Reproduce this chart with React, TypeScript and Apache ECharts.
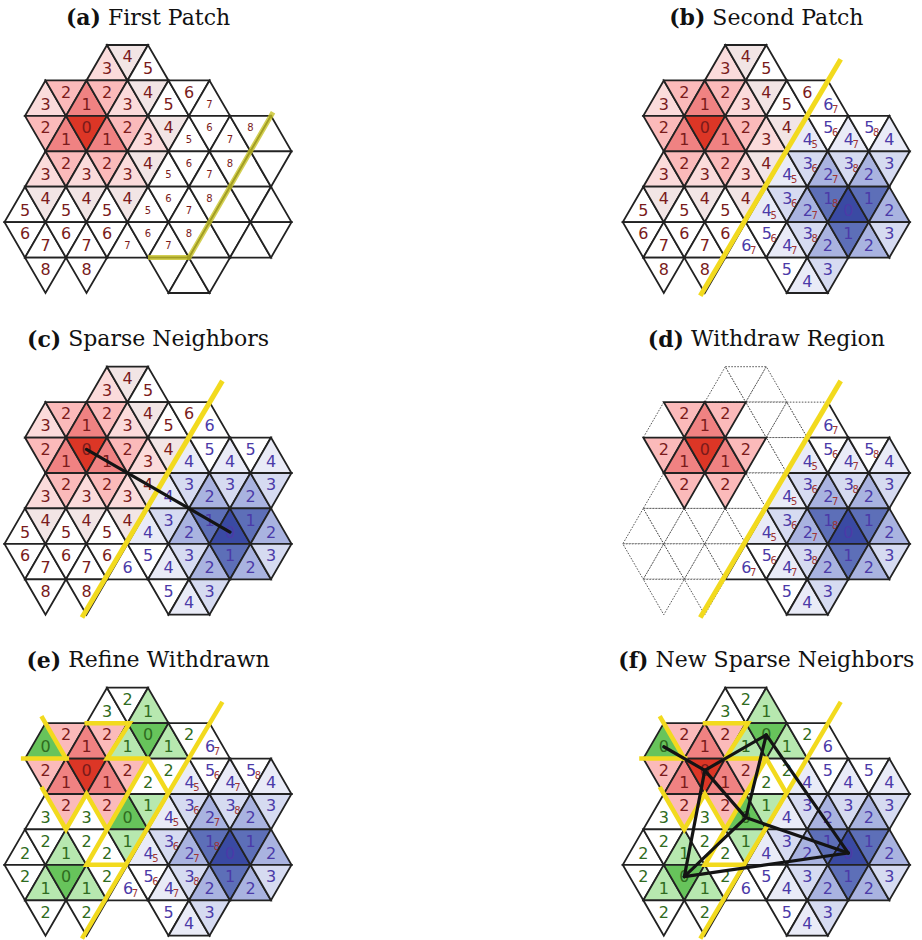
import React, { useEffect, useRef } from "react";
import * as echarts from "echarts";

// ---- lattice data (row r, first column index per row) ----
const ROW_START = [5, 2, 2, 2, 1, 1, 2];

// tokens: r/b/g = red/blue/green value, "/n" = small red subscript, "s" = small label,
// "x" = empty white cell, "d" = dotted (withdrawn) cell, "-" = no cell
const CELLS_A = [
  "r3 r4 r5",
  "r3 r2 r1 r2 r3 r4 r5 r6 r7s",
  "r2 r1 r0 r1 r2 r3 r4 r5s r6s r7s r8s x",
  "r3 r2 r3 r2 r3 r4 r5s r6s r7s r8s x x",
  "r5 r4 r5 r4 r5 r4 r5s r6s r7s r8s x x x",
  "r6 r7 r6 r7 r6 r7s r6s r7s r8s x x x x",
  "r8 - r8 - - - x x x",
];
const CELLS_B = [
  "r3 r4 r5",
  "r3 r2 r1 r2 r3 r4 r5 r6 b6/7",
  "r2 r1 r0 r1 r2 r3 r4 b4/5 b5/6 b4/7 b5/8 b4",
  "r3 r2 r3 r2 r3 r4 b4/5 b3/6 b2/7 b3/8 b2 b3",
  "r5 r4 r5 r4 r5 r4 b4/5 b3/6 b2/7 b1/8 b0 b1 b2",
  "r6 r7 r6 r7 r6 b6/7 b5/6 b4/7 b3/8 b2 b1 b2 b3",
  "r8 - r8 - - - b5 b4 b3",
];
const CELLS_C = [
  "r3 r4 r5",
  "r3 r2 r1 r2 r3 r4 r5 r6 b6",
  "r2 r1 r0 r1 r2 r3 r4 b4 b5 b4 b5 b4",
  "r3 r2 r3 r2 r3 r4 b4 b3 b2 b3 b2 b3",
  "r5 r4 r5 r4 r5 r4 b4 b3 b2 b1 b0 b1 b2",
  "r6 r7 r6 r7 r6 b6 b5 b4 b3 b2 b1 b2 b3",
  "r8 - r8 - - - b5 b4 b3",
];
const CELLS_D = [
  "d d d",
  "d r2 r1 r2 d d d d b6/7",
  "r2 r1 r0 r1 r2 d d b4/5 b5/6 b4/7 b5/8 b4",
  "d r2 d r2 d d b4/5 b3/6 b2/7 b3/8 b2 b3",
  "d d d d d d b4/5 b3/6 b2/7 b1/8 b0 b1 b2",
  "d d d d d b6/7 b5/6 b4/7 b3/8 b2 b1 b2 b3",
  "d - d - - - b5 b4 b3",
];
const CELLS_E = [
  "g3 g2 g1",
  "g0 r2 r1 r2 g1 g0 g1 g2 b6/7",
  "r2 r1 r0 r1 r2 g2 g2 b4/5 b5/6 b4/7 b5/8 b4",
  "g3 r2 g3 r2 g0 g1 b4/5 b3/6 b2/7 b3/8 b2 b3",
  "g2 g2 g1 g2 g2 g1 b4/5 b3/6 b2/7 b1/8 b0 b1 b2",
  "g2 g1 g0 g1 g2 b6/7 b5/6 b4/7 b3/8 b2 b1 b2 b3",
  "g2 - g2 - - - b5 b4 b3",
];
const CELLS_F = [
  "g3 g2 g1",
  "g0 r2 r1 r2 g1 g0 g1 g2 b6",
  "r2 r1 r0 r1 r2 g2 g2 b4 b5 b4 b5 b4",
  "g3 r2 g3 r2 g0 g1 b4 b3 b2 b3 b2 b3",
  "g2 g2 g1 g2 g2 g1 b4 b3 b2 b1 b0 b1 b2",
  "g2 g1 g0 g1 g2 b6 b5 b4 b3 b2 b1 b2 b3",
  "g2 - g2 - - - b5 b4 b3",
];
const PANEL_CELLS = [CELLS_A, CELLS_B, CELLS_C, CELLS_D, CELLS_E, CELLS_F];

const TITLE_TAGS = ["(a)", "(b)", "(c)", "(d)", "(e)", "(f)"];
const TITLE_TEXTS = [
  "First Patch",
  "Second Patch",
  "Sparse Neighbors",
  "Withdraw Region",
  "Refine Withdrawn",
  "New Sparse Neighbors",
];

// boundary polylines in lattice coordinates [column, row-line]
const DIAGONAL = [[3.78, 7.08], [10.63, 0.4]];
const BOUNDARY_A = [[7, 6], [9, 6], [13.1, 1.9]];
const REFINE_LINES = [
  DIAGONAL,
  [[1.8, 0.8], [3.05, 2.05]],
  [[0.8, 2], [3.15, 2]],
  [[3.9, 1], [6.1, 1], [5, 2], [7, 2], [8, 3]],
  [[7, 2], [4, 5], [6, 5]],
  [[1.8, 2.8], [3, 4], [4, 3], [5, 4]],
];
const PANEL_YELLOW = [[BOUNDARY_A], [DIAGONAL], [DIAGONAL], [DIAGONAL], REFINE_LINES, REFINE_LINES];

// seed (value 0) triangle centres
const SEED_NAMES = ["G1", "R", "G2", "G3", "G4", "B"];
const SEED_POS = [[2, 5 / 3], [4, 7 / 3], [7, 4 / 3], [6, 11 / 3], [3, 16 / 3], [11, 14 / 3]];
const EDGES_C = [["R", "B"]];
const EDGES_F = [
  ["G1", "R"], ["R", "G2"], ["R", "G3"], ["R", "G4"], ["G2", "G3"],
  ["G2", "B"], ["G3", "B"], ["G4", "B"], ["G4", "G3"],
];
const PANEL_EDGES = [[], [], EDGES_C, [], [], EDGES_F];

// ---- styling ----
const RED_FILL = ["#dc3626", "#f08282", "#fbbaba", "#fbdbdb", "#f2e5e5"];
const BLUE_FILL = ["#3a4aa3", "#5d6fb8", "#a9b3e0", "#d6dbf1", "#e9ebf7"];
const GREEN_FILL = ["#67c45b", "#b7e8af"];
const TEXT_COLOR: Record<string, string> = { r: "#7a1b1b", b: "#4b3aa8", g: "#2f6b20" };
const SUB_COLOR = "#a03434";

const UNIT_X = 20.5;
const UNIT_Y = 35.43;
const PANEL_LEFT = [4.5, 622.8, 4.5, 622.8, 4.5, 622.8];
const PANEL_TOP = [45, 45, 366.7, 366.7, 687.7, 687.7];

function parseCells(rows: string[]) {
  const out: any[] = [];
  rows.forEach((row, r) => {
    row.split(" ").forEach((tok, i) => {
      const c = ROW_START[r] + i;
      if (tok === "-") return;
      if (tok === "x") { out.push({ r, c, fill: "#ffffff" }); return; }
      if (tok === "d") { out.push({ r, c, dotted: true }); return; }
      const kind = tok[0];
      let rest = tok.slice(1);
      const small = rest.endsWith("s");
      if (small) rest = rest.slice(0, -1);
      const [main, sub] = rest.split("/");
      const v = Number(main);
      const scale = kind === "r" ? RED_FILL : kind === "b" ? BLUE_FILL : GREEN_FILL;
      const fill = v < scale.length ? scale[v] : "#ffffff";
      out.push({ r, c, fill, main, sub, small, color: TEXT_COLOR[kind] });
    });
  });
  out.sort((a, b) => (b.dotted ? 1 : 0) - (a.dotted ? 1 : 0));
  return out;
}

function txt(x: number, y: number, text: string, size: number, color: string) {
  return {
    type: "text",
    x,
    y,
    style: {
      text,
      fill: color,
      font: `${size}px "DejaVu Sans"`,
      fontSize: size,
      fontFamily: "DejaVu Sans",
      align: "center",
      verticalAlign: "middle",
      textAlign: "center",
      textVerticalAlign: "middle",
    },
  };
}

function makeRender(cells: any[]) {
  return (params: any, api: any) => {
    const cell = cells[params.dataIndex];
    const { r, c } = cell;
    const up = (r + c) % 2 === 1;
    const pts = up
      ? [[c, r], [c - 1, r + 1], [c + 1, r + 1]]
      : [[c - 1, r], [c + 1, r], [c, r + 1]];
    const px = pts.map((p) => api.coord(p));
    const cen = api.coord([c, up ? r + 2 / 3 : r + 1 / 3]);
    const children: any[] = [
      {
        type: "polygon",
        shape: { points: px },
        style: cell.dotted
          ? { fill: "#ffffff", stroke: "#444", lineWidth: 0.9, lineDash: [1.6, 1.4] }
          : { fill: cell.fill, stroke: "#222", lineWidth: 1.8 },
      },
    ];
    if (cell.main !== undefined) {
      if (cell.sub !== undefined) {
        children.push(txt(cen[0] + 0.5, cen[1], cell.main, 16, cell.color));
        children.push(txt(cen[0] + 7.5, cen[1] + 5, cell.sub, 10, SUB_COLOR));
      } else {
        children.push(txt(cen[0], cen[1], cell.main, cell.small ? 10 : 16, cell.color));
      }
    }
    return { type: "group", children };
  };
}

export default function App() {
  const ref = useRef<HTMLDivElement>(null);
  useEffect(() => {
    if (!ref.current) return;
    const chart = echarts.init(ref.current, null, { renderer: "svg" });
    const grid: any[] = [];
    const xAxis: any[] = [];
    const yAxis: any[] = [];
    const series: any[] = [];
    const graphic: any[] = [];
    PANEL_CELLS.forEach((rows, p) => {
      grid.push({ left: PANEL_LEFT[p], top: PANEL_TOP[p], width: 14 * UNIT_X, height: 7 * UNIT_Y, show: false });
      xAxis.push({ type: "value", gridIndex: p, min: 0, max: 14, show: false });
      yAxis.push({ type: "value", gridIndex: p, min: 0, max: 7, inverse: true, show: false });
      const cells = parseCells(rows);
      series.push({
        type: "custom",
        xAxisIndex: p,
        yAxisIndex: p,
        coordinateSystem: "cartesian2d",
        data: cells.map((cl) => [cl.c, cl.r]),
        encode: { x: 0, y: 1 },
        renderItem: makeRender(cells),
        clip: false,
        silent: true,
        z: 1,
      });
      PANEL_YELLOW[p].forEach((line) => {
        series.push({
          type: "line",
          xAxisIndex: p,
          yAxisIndex: p,
          data: line,
          symbol: "none",
          showSymbol: false,
          clip: false,
          silent: true,
          z: 3,
          lineStyle: p === 0
            ? { color: "rgba(198,194,34,0.78)", width: 5, cap: "butt", join: "miter" }
            : { color: "#f2da1e", width: p >= 4 ? 4.5 : 5, cap: "butt", join: "miter" },
        });
      });
      PANEL_EDGES[p].forEach(([a, b]) => {
        series.push({
          type: "line",
          xAxisIndex: p,
          yAxisIndex: p,
          data: [SEED_POS[SEED_NAMES.indexOf(a)], SEED_POS[SEED_NAMES.indexOf(b)]],
          symbol: "none",
          showSymbol: false,
          clip: false,
          silent: true,
          z: 4,
          lineStyle: { color: "#141414", width: 3.2, cap: "round" },
        });
      });
      graphic.push({
        type: "text",
        x: PANEL_LEFT[p] + 7 * UNIT_X,
        y: PANEL_TOP[p] - 28,
        style: {
          text: `{b|${TITLE_TAGS[p]}} ${TITLE_TEXTS[p]}`,
          font: '22px "DejaVu Serif"',
          fontSize: 22,
          fontFamily: "DejaVu Serif",
          fill: "#111",
          align: "center",
          verticalAlign: "middle",
          textAlign: "center",
          textVerticalAlign: "middle",
          rich: { b: { fontWeight: "bold", fontSize: 22, fontFamily: "DejaVu Serif", fill: "#111" } },
        },
      });
    });
    chart.setOption({
      animation: false,
      backgroundColor: "#ffffff",
      grid,
      xAxis,
      yAxis,
      series,
      graphic,
    });
    return () => chart.dispose();
  }, []);
  return (
    <div
      ref={ref}
      style={{ position: "absolute", left: 0, top: 0, width: 922, height: 940 }}
    />
  );
}
